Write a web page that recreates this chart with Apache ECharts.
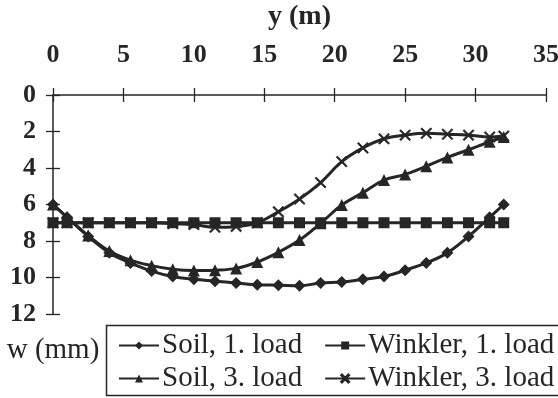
<!DOCTYPE html>
<html>
<head>
<meta charset="utf-8">
<script src="https://cdn.jsdelivr.net/npm/echarts@6/dist/echarts.min.js"></script>
<style>
  html, body { margin: 0; padding: 0; background: #fff; }
  #chart { width: 558px; height: 398px; }
</style>
</head>
<body>
<div id="chart"></div>
<script>
// distance along the section y (m)
const xs = [0, 1, 2.5, 4, 5.5, 7, 8.5, 10, 11.5, 13, 14.5, 16, 17.5, 19, 20.5, 22, 23.5, 25, 26.5, 28, 29.5, 31, 32];

// settlement w (mm)
const soil1 = [6.0, 6.7, 7.75, 8.65, 9.2, 9.65, 9.95, 10.1, 10.2, 10.3, 10.4, 10.42, 10.45, 10.3, 10.25, 10.1, 9.95, 9.6, 9.2, 8.65, 7.75, 6.7, 6.0];
const winkler1 = [7, 7, 7, 7, 7, 7, 7, 7, 7, 7, 7, 7, 7, 7, 7, 7, 7, 7, 7, 7, 7, 7, 7];
const soil3 = [6.0, 6.7, 7.7, 8.55, 9.05, 9.35, 9.55, 9.62, 9.6, 9.5, 9.15, 8.62, 7.95, 7.03, 6.03, 5.35, 4.66, 4.35, 3.9, 3.42, 3.0, 2.56, 2.3];
const winkler3 = [7, 7, 7, 7, 7, 7, 7.05, 7.1, 7.25, 7.2, 7.0, 6.4, 5.7, 4.8, 3.65, 2.9, 2.4, 2.2, 2.1, 2.15, 2.2, 2.3, 2.25];

// legend rows, as laid out in the figure
const legendRow1 = ['Soil, 1. load', 'Winkler, 1. load'];
const legendRow2 = ['Soil, 3. load', 'Winkler, 3. load'];

const INK = '#262626';
const FONT = '"Liberation Serif", "DejaVu Serif", serif';
const CROSS = 'path://M0,1 L1,0 L5,4 L9,0 L10,1 L6,5 L10,9 L9,10 L5,6 L1,10 L0,9 L4,5 Z';

const pairs = vals => xs.map((x, i) => [x, vals[i]]);

const mkSeries = (name, vals, symbol, size) => ({
  type: 'line',
  name,
  data: pairs(vals),
  smooth: 0.4,
  symbol,
  symbolSize: size,
  lineStyle: { color: INK, width: 3 },
  itemStyle: { color: INK, borderColor: INK, borderWidth: symbol === CROSS ? 0.8 : 0 },
  z: 3,
});

const mkLegend = (data, top) => ({
  left: 118,
  top,
  padding: 0,
  itemGap: 22,
  itemWidth: 40,
  itemHeight: 10,
  textStyle: { color: INK, fontFamily: FONT, fontSize: 29, lineHeight: 28, padding: [0, 0, 0, -2] },
  data,
});

const chart = echarts.init(document.getElementById('chart'), null, { renderer: 'canvas' });

const tickLabel = { color: INK, fontFamily: FONT, fontSize: 26, fontWeight: 'bold' };
const tickLine = { color: INK, width: 1.3 };

chart.setOption({
  backgroundColor: '#fff',
  animation: false,
  grid: { left: 53, right: 12, top: 95, bottom: 84, outerBoundsMode: 'none', containLabel: false },
  xAxis: [
    {
      type: 'value',
      position: 'top',
      min: 0, max: 35, interval: 5,
      name: 'y (m)',
      nameLocation: 'middle',
      nameGap: 64,
      nameTextStyle: { color: INK, fontFamily: FONT, fontSize: 28, fontWeight: 'bold' },
      axisLine: { show: true, onZero: false, lineStyle: { color: INK, width: 1.5 } },
      axisTick: { show: true, inside: false, length: 7, lineStyle: tickLine },
      axisLabel: { ...tickLabel, margin: 27 },
      splitLine: { show: false },
    },
    {
      type: 'value',
      position: 'top',
      min: 0, max: 35, interval: 5,
      axisLine: { show: false },
      axisTick: { show: true, inside: true, length: 7, lineStyle: tickLine },
      axisLabel: { show: false },
      splitLine: { show: false },
    },
  ],
  yAxis: [
    {
      type: 'value',
      inverse: true,
      min: 0, max: 12, interval: 2,
      name: 'w (mm)',
      nameLocation: 'end',
      nameGap: 22,
      nameTextStyle: { color: INK, fontFamily: FONT, fontSize: 29 },
      axisLine: { show: true, onZero: false, lineStyle: { color: INK, width: 1.5 } },
      axisTick: { show: true, inside: false, length: 7, lineStyle: tickLine },
      axisLabel: { ...tickLabel, margin: 17 },
      splitLine: { show: false },
    },
    {
      type: 'value',
      inverse: true,
      position: 'left',
      min: 0, max: 12, interval: 2,
      axisLine: { show: false },
      axisTick: { show: true, inside: true, length: 7, lineStyle: tickLine },
      axisLabel: { show: false },
      splitLine: { show: false },
    },
  ],
  legend: [mkLegend(legendRow1, 331), mkLegend(legendRow2, 364)],
  graphic: [{
    type: 'rect',
    left: 104,
    top: 323,
    shape: { width: 470, height: 70 },
    style: { fill: 'none', stroke: INK, lineWidth: 1.5 },
    silent: true,
  }],
  series: [
    mkSeries('Soil, 1. load', soil1, 'diamond', 12),
    mkSeries('Winkler, 1. load', winkler1, 'rect', 11),
    mkSeries('Soil, 3. load', soil3, 'triangle', 12),
    mkSeries('Winkler, 3. load', winkler3, CROSS, 11),
  ],
});
</script>
</body>
</html>
